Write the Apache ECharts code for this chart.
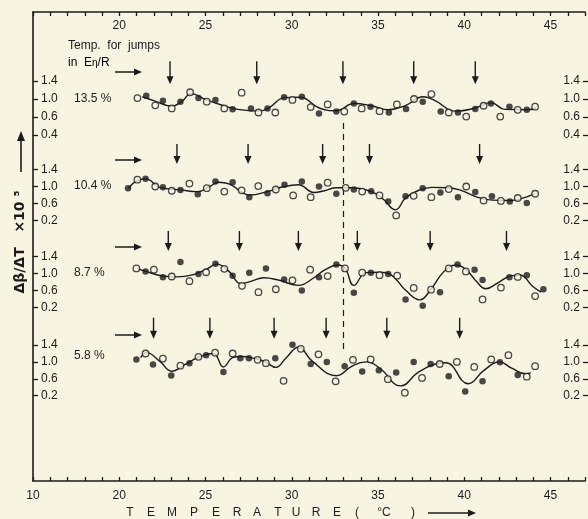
<!DOCTYPE html>
<html><head><meta charset="utf-8">
<script src="https://cdn.jsdelivr.net/npm/echarts@6/dist/echarts.min.js"></script>
<style>html,body{margin:0;padding:0;background:#f7f4e2;}#c{width:588px;height:519px;}</style>
</head><body><div id="c"></div>
<script>
// ---------------- DATA ----------------
const panelNames = ['13.5 %', '10.4 %', '8.7 %', '5.8 %'];
const yTickValues = [0.2, 0.6, 1.0, 1.4];
const yTickLabelsTop = ['0.4', '0.6', '1.0', '1.4'];
const yTickLabels = ['0.2', '0.6', '1.0', '1.4'];
const xAxisStart = 15;
const xBottomFirstLabel = '10';

const p1Open = [[21.02,1.02],[22.05,0.86],[23.0,0.79],[24.06,1.15],[25.02,0.94],[26.03,0.79],[27.03,1.14],[28.0,0.70],[28.97,0.70],[29.96,0.98],[31.01,0.82],[31.99,0.88],[32.95,0.72],[33.95,0.79],[34.98,0.73],[35.98,0.88],[36.97,1.0],[37.97,1.11],[38.97,0.70],[39.98,0.61],[40.98,0.85],[41.94,0.61],[42.95,0.76],[43.95,0.83]];
const p1Filled = [[21.53,1.07],[22.49,0.96],[23.5,0.94],[24.54,1.02],[25.52,0.98],[26.51,0.77],[27.57,0.79],[28.52,0.79],[29.48,1.04],[30.5,1.05],[31.49,0.68],[32.49,0.72],[33.5,0.90],[34.46,0.83],[35.52,0.70],[36.51,0.78],[37.47,0.94],[38.51,0.72],[39.5,0.70],[40.5,0.78],[41.4,0.90],[42.47,0.83],[43.47,0.76]];
const p1Curve = [[21.3,1.05],[22.0,0.96],[23.0,0.84],[23.6,0.95],[24.1,1.12],[25.0,0.98],[26.0,0.85],[26.8,0.77],[28.0,0.73],[28.6,0.8],[29.5,1.03],[30.4,1.04],[31.5,0.8],[32.5,0.74],[33.5,0.9],[34.5,0.85],[35.5,0.76],[36.5,0.86],[37.5,1.05],[38.1,0.98],[39.4,0.73],[40.5,0.8],[41.4,0.92],[42.2,0.77],[43.5,0.76],[44.0,0.80]];
const p1Jumps = [22.9, 27.9, 32.87, 36.95, 40.5];

const p2Open = [[21.02,1.16],[22.05,1.0],[23.0,0.90],[24.02,1.07],[25.02,0.96],[26.03,0.88],[27.03,0.91],[27.99,1.01],[29.0,0.93],[30.0,0.79],[31.01,0.75],[31.99,1.09],[33.03,0.97],[33.98,0.88],[34.98,0.79],[35.94,0.32],[36.95,0.78],[37.97,0.75],[38.97,0.94],[39.98,1.0],[40.98,0.67],[41.98,0.66],[42.95,0.73],[43.95,0.83]];
const p2Filled = [[20.48,0.96],[21.49,1.18],[22.49,0.98],[23.5,0.92],[24.5,0.82],[25.52,1.12],[26.51,1.10],[27.47,0.75],[28.52,0.84],[29.5,1.04],[30.5,1.12],[31.49,1.0],[32.49,0.83],[33.5,0.93],[34.5,0.89],[35.48,0.65],[36.48,0.77],[37.47,0.96],[38.49,0.86],[39.5,0.75],[40.5,0.87],[41.46,0.77],[42.49,0.65],[43.47,0.61]];
const p2Curve = [[20.5,0.96],[21.0,1.14],[21.5,1.18],[22.3,0.98],[23.5,0.92],[24.5,0.88],[25.2,1.0],[25.7,1.1],[26.3,1.06],[27.5,0.8],[28.5,0.88],[29.5,1.0],[30.3,1.04],[31.2,0.86],[31.8,0.9],[32.5,0.97],[33.2,0.97],[34.5,0.88],[35.2,0.7],[35.9,0.45],[36.5,0.74],[37.3,0.92],[38.0,0.98],[38.9,0.97],[39.6,0.92],[40.6,0.75],[41.5,0.68],[42.5,0.67],[43.2,0.72],[43.95,0.83]];
const p2Jumps = [23.3, 27.4, 31.7, 34.4, 40.75];

const p3Open = [[20.96,1.12],[21.97,1.09],[23.0,0.93],[24.02,0.82],[24.98,1.03],[26.03,1.11],[27.05,0.71],[28.0,0.56],[29.0,0.63],[29.96,0.84],[30.98,1.09],[31.99,0.94],[32.99,1.12],[33.98,1.02],[34.98,0.96],[36.0,0.95],[36.95,0.66],[37.95,0.62],[38.97,1.12],[39.96,1.05],[40.92,0.39],[41.98,0.67],[42.95,0.92],[43.95,0.47]];
const p3Filled = [[21.49,1.05],[22.49,0.91],[23.5,1.27],[24.54,0.99],[25.52,1.23],[26.51,0.95],[27.47,1.02],[28.43,1.12],[29.48,0.86],[30.5,0.60],[31.49,0.91],[32.49,1.21],[33.5,0.55],[34.48,1.02],[35.48,0.99],[36.48,0.39],[37.47,0.24],[38.47,0.56],[39.48,1.21],[40.46,1.09],[40.92,0.85],[42.47,0.91],[43.47,0.96],[44.43,0.63]];
const p3Curve = [[21.0,1.12],[21.5,1.05],[22.5,0.94],[23.3,0.92],[24.3,0.98],[25.0,1.1],[25.6,1.22],[26.3,1.05],[27.0,0.76],[27.6,0.82],[28.3,0.9],[29.2,0.84],[30.3,0.72],[31.2,0.9],[31.8,1.08],[32.6,1.2],[33.0,1.12],[33.5,0.72],[34.2,1.02],[35.0,1.03],[35.6,0.98],[36.5,0.6],[37.3,0.38],[37.9,0.6],[38.7,1.05],[39.4,1.2],[40.0,1.08],[40.6,0.8],[41.1,0.64],[41.8,0.78],[42.6,0.95],[43.1,0.96],[43.8,0.7],[44.3,0.56]];
const p3Jumps = [22.8, 26.9, 30.3, 33.7, 37.9, 42.3];

const p4Open = [[21.49,1.20],[22.49,1.08],[23.5,0.91],[24.54,1.12],[25.5,1.22],[26.51,1.20],[27.95,1.05],[28.43,0.97],[29.45,0.55],[30.44,1.31],[31.46,1.18],[32.45,0.54],[33.45,1.05],[34.47,1.06],[35.46,0.59],[36.44,0.27],[37.43,0.62],[38.45,0.95],[39.44,1.0],[40.44,0.88],[41.42,1.06],[42.41,1.16],[43.47,0.65],[43.95,0.90]];
const p4Filled = [[20.96,1.06],[21.92,0.94],[22.97,0.68],[24.02,0.97],[24.98,1.16],[25.98,0.76],[26.95,1.09],[27.45,1.09],[28.97,1.09],[29.96,1.41],[31.01,0.95],[31.94,1.0],[32.97,0.9],[33.98,0.77],[34.94,0.80],[35.94,0.75],[36.95,1.0],[37.93,0.95],[38.97,0.66],[39.92,0.30],[40.92,0.54],[41.92,0.99],[42.95,0.69]];
const p4Curve = [[21.2,1.1],[21.55,1.22],[22.3,1.02],[23.0,0.78],[23.8,0.95],[24.6,1.12],[25.4,1.2],[25.98,0.88],[26.5,1.1],[27.0,1.13],[27.8,1.08],[28.4,1.0],[29.0,0.87],[29.6,1.1],[30.3,1.35],[31.1,1.02],[32.5,0.67],[33.4,0.9],[34.2,1.0],[35.0,0.85],[36.2,0.43],[37.2,0.75],[38.2,0.95],[38.8,0.98],[40.1,0.48],[41.0,0.8],[41.9,1.0],[42.6,0.85],[43.4,0.72],[43.7,0.74]];
const p4Jumps = [21.95, 25.2, 28.9, 31.9, 35.4, 39.6];

const dashedT = 33;

// ---------------- STYLE / LAYOUT ----------------
const INK = '#1b1b1b';
const BG = '#f7f4e2';
const FONT = 'Liberation Sans';
const L = 33, W = 557;
const PANELS = [
  {top: 36,  height: 108, open: p1Open, filled: p1Filled, curve: p1Curve, jumps: p1Jumps, labels: yTickLabelsTop, arrow: [1.84, 1.33]},
  {top: 127, height: 102, open: p2Open, filled: p2Filled, curve: p2Curve, jumps: p2Jumps, labels: yTickLabels, arrow: [2.0, 1.53]},
  {top: 214, height: 102, open: p3Open, filled: p3Filled, curve: p3Curve, jumps: p3Jumps, labels: yTickLabels, arrow: [2.0, 1.53]},
  {top: 303, height: 101, open: p4Open, filled: p4Filled, curve: p4Curve, jumps: p4Jumps, labels: yTickLabels, arrow: [2.05, 1.55]}
];
const labelY = [99, 186, 273, 356];
const rightArrowY = [72, 160, 247, 335];

const grids = [{left: L, top: 12, width: W, height: 469}];
const xAxes = [
  {gridIndex: 0, type: 'value', position: 'top', min: xAxisStart, max: 47, interval: 5,
   axisLine: {show: true, onZero: false, lineStyle: {color: INK, width: 1.6}},
   axisTick: {show: true, inside: true, length: 4, lineStyle: {color: INK, width: 1.3}},
   minorTick: {show: true, splitNumber: 5, length: 4, lineStyle: {color: INK, width: 1.3}},
   axisLabel: {inside: true, margin: 8, color: INK, fontFamily: FONT, fontSize: 12,
     formatter: v => (v >= 20 && v <= 45) ? String(v) : ''},
   splitLine: {show: false}},
  {gridIndex: 0, type: 'value', position: 'bottom', min: xAxisStart, max: 47, interval: 5,
   axisLine: {show: true, onZero: false, lineStyle: {color: INK, width: 1.6}},
   axisTick: {show: true, inside: true, length: 4, lineStyle: {color: INK, width: 1.3}},
   minorTick: {show: true, splitNumber: 5, length: 4, lineStyle: {color: INK, width: 1.3}},
   axisLabel: {margin: 9, color: INK, fontFamily: FONT, fontSize: 12,
     formatter: v => v === xAxisStart ? xBottomFirstLabel : (v <= 45 ? String(v) : '')},
   splitLine: {show: false}}
];
const yAxes = [
  {gridIndex: 0, type: 'value', min: 0, max: 469, position: 'left',
   axisLine: {show: true, onZero: false, lineStyle: {color: INK, width: 1.6}}, axisTick: {show: false},
   axisLabel: {show: false}, splitLine: {show: false}}
];
const series = [
  {type: 'line', xAxisIndex: 0, yAxisIndex: 0, data: [[dashedT, 358], [dashedT, 128]],
   showSymbol: false, symbol: 'none', lineStyle: {color: INK, width: 1.2, type: [6, 5]}, silent: true, z: 1}
];

PANELS.forEach((p, i) => {
  const g = grids.length;
  grids.push({left: L, top: p.top, width: W, height: p.height});
  const xi = xAxes.length;
  xAxes.push({gridIndex: g, type: 'value', min: xAxisStart, max: 47, show: false});
  const mk = (pos) => ({gridIndex: g, type: 'value', min: 0, max: 2.4, position: pos,
    axisLine: {show: false, onZero: false}, splitLine: {show: false},
    axisTick: {show: true, inside: true, length: 5, customValues: yTickValues, lineStyle: {color: INK, width: 1.3}},
    axisLabel: {show: true, inside: true, margin: 8, customValues: yTickValues, color: INK, fontFamily: FONT, fontSize: 12,
      formatter: v => { const k = yTickValues.findIndex(t => Math.abs(t - v) < 1e-6); return k >= 0 ? p.labels[k] : ''; }}});
  const yl = yAxes.length;
  yAxes.push(mk('left'));
  yAxes.push(mk('right'));
  series.push({type: 'line', xAxisIndex: xi, yAxisIndex: yl, data: p.curve, smooth: 0.45, showSymbol: false, symbol: 'none',
    lineStyle: {color: INK, width: 1.4}, silent: true, z: 2});
  series.push({type: 'scatter', xAxisIndex: xi, yAxisIndex: yl, data: p.open, symbol: 'circle', symbolSize: 6.5,
    itemStyle: {color: BG, borderColor: INK, borderWidth: 1.3}, silent: true, z: 3});
  series.push({type: 'scatter', xAxisIndex: xi, yAxisIndex: yl, data: p.filled, symbol: 'circle', symbolSize: 6.5,
    itemStyle: {color: INK}, silent: true, z: 3});
  series.push({type: 'custom', xAxisIndex: xi, yAxisIndex: yl, data: p.jumps.map(t => [t, 1]), silent: true, z: 3,
    renderItem: (params, api) => {
      const t = api.value(0);
      const a = api.coord([t, p.arrow[0]]);
      const b = api.coord([t, p.arrow[1]]);
      return {type: 'group', children: [
        {type: 'line', shape: {x1: a[0], y1: a[1], x2: b[0], y2: b[1] - 4}, style: {stroke: INK, lineWidth: 1.4}},
        {type: 'polygon', shape: {points: [[b[0] - 3.5, b[1] - 8], [b[0] + 3.5, b[1] - 8], [b[0], b[1]]]}, style: {fill: INK}}
      ]};
    }});
});

function arrowH(x1, x2, y) {
  return {type: 'group', silent: true, children: [
    {type: 'line', shape: {x1: x1, y1: y, x2: x2 - 5, y2: y}, style: {stroke: INK, lineWidth: 1.5}},
    {type: 'polygon', shape: {points: [[x2 - 8, y - 3.5], [x2 - 8, y + 3.5], [x2, y]]}, style: {fill: INK}}
  ]};
}
function txt(x, y, text, size, align) {
  return {type: 'text', x: x, y: y, silent: true,
    style: {text: text, fill: INK, font: (size || 12) + 'px "' + FONT + '"', textAlign: align || 'left', textVerticalAlign: 'middle'}};
}
const graphics = [];
graphics.push(txt(68, 46, 'Temp.  for  jumps', 12));
graphics.push({type: 'text', x: 68, y: 63, silent: true,
  style: {text: '{a|in  E}{b|η}{a|/R}', textVerticalAlign: 'middle',
    rich: {a: {fontFamily: FONT, fontSize: 12, color: INK}, b: {fontFamily: FONT, fontSize: 10, color: INK}}}});
panelNames.forEach((n, i) => graphics.push(txt(74, labelY[i], n, 12)));
rightArrowY.forEach(y => graphics.push(arrowH(115, 142, y)));
graphics.push({type: 'text', x: 20, y: 242, rotation: Math.PI / 2, silent: true,
  style: {text: 'Δβ/ΔT   ×10 ⁵', fill: INK, font: 'bold 14px "DejaVu Sans"', textAlign: 'center', textVerticalAlign: 'middle'}});
graphics.push({type: 'group', silent: true, children: [
  {type: 'line', shape: {x1: 21, y1: 172, x2: 21, y2: 138}, style: {stroke: INK, lineWidth: 1.6}},
  {type: 'polygon', shape: {points: [[17, 141], [25, 141], [21, 131]]}, style: {fill: INK}}
]});
const xt = [['T',130],['E',151],['M',172],['P',194],['E',216],['R',237],['A',257],['T',278],['U',296],['R',316],['E',337],['(',357],['°C',384],[')',413]];
xt.forEach(([c, x]) => graphics.push(txt(x, 513, c, 12, 'center')));
graphics.push(arrowH(428, 476, 513));

const chart = echarts.init(document.getElementById('c'), null, {renderer: 'canvas'});
chart.setOption({backgroundColor: BG, animation: false, grid: grids, xAxis: xAxes, yAxis: yAxes, series: series, graphic: graphics});
</script></body></html>
